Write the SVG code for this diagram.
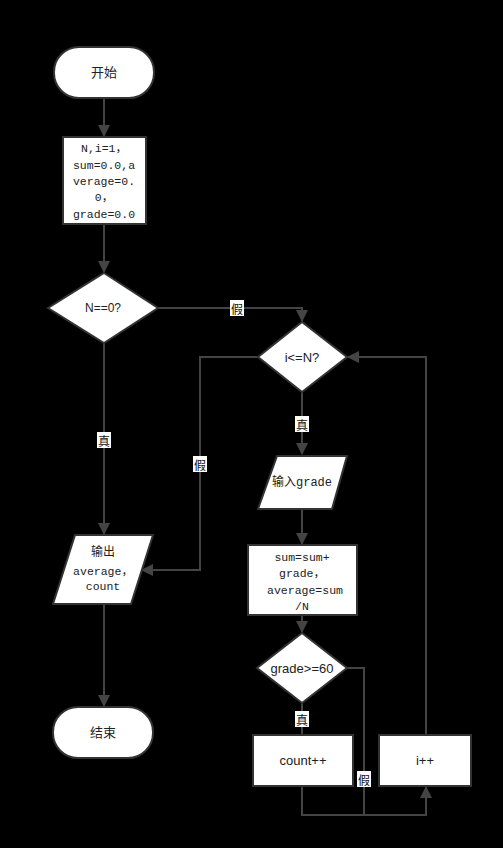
<svg xmlns="http://www.w3.org/2000/svg" width="503" height="848" viewBox="0 0 503 848">
<defs>
<marker id="arr" markerUnits="userSpaceOnUse" markerWidth="12" markerHeight="14" refX="11" refY="6" orient="auto">
<path d="M0,0 L12,6 L0,12 Z" fill="#444"/>
</marker>
<style>
.n{fill:#fff;stroke:#333;stroke-width:2}
.c{fill:none;stroke:#444;stroke-width:2}
.s{font-family:"Liberation Sans","Noto Sans CJK SC",sans-serif;font-size:13px;fill:#222;text-anchor:middle;dominant-baseline:central}
.m{font-family:"Liberation Mono","Noto Sans CJK SC",monospace;font-size:11.5px;fill:#222;text-anchor:middle;dominant-baseline:central}
.lb{fill:#fff}
.lt{font-family:"Noto Sans CJK SC",sans-serif;font-size:12px;fill:#111;text-anchor:middle;dominant-baseline:central}
</style>
</defs>
<rect width="503" height="848" fill="#000"/>
<g id="connectors">
<path class="c" d="M104,98 V136" marker-end="url(#arr)"/>
<path class="c" d="M104,224 V272" marker-end="url(#arr)"/>
<path class="c" d="M158,308 H302 V321" marker-end="url(#arr)"/>
<path class="c" d="M104,343 V534" marker-end="url(#arr)"/>
<path class="c" d="M104,604 V706" marker-end="url(#arr)"/>
<path class="c" d="M258,357 H200 V570 H142" marker-end="url(#arr)"/>
<path class="c" d="M302,392 V454" marker-end="url(#arr)"/>
<path class="c" d="M302,510 V544" marker-end="url(#arr)"/>
<path class="c" d="M302,615 V632" marker-end="url(#arr)"/>
<path class="c" d="M302,703 V735"/>
<path class="c" d="M347,668 H364 V815"/>
<path class="c" d="M302,786 V815 H426 V787" marker-end="url(#arr)"/>
<path class="c" d="M426,735 V357 H348" marker-end="url(#arr)"/>
<g id="labels">
<rect class="lb" x="230" y="300" width="14" height="16"/><text class="lt" x="237" y="308">假</text>
<rect class="lb" x="193" y="456" width="14" height="16"/><text class="lt" x="200" y="464">假</text>
<rect class="lb" x="97" y="432" width="14" height="16"/><text class="lt" x="104" y="440">真</text>
<rect class="lb" x="295" y="416" width="14" height="16"/><text class="lt" x="302" y="424">真</text>
<rect class="lb" x="295" y="711" width="14" height="16"/><text class="lt" x="302" y="719">真</text>
<rect class="lb" x="357" y="771" width="14" height="16"/><text class="lt" x="364" y="779">假</text>
</g>
</g>
<g id="start">
<rect class="n" x="54" y="47" width="100" height="51" rx="25" ry="25"/>
<text class="s" x="104" y="72.5">开始</text>
</g>
<g id="init">
<rect class="n" x="63" y="137" width="83" height="87"/>
<text class="m" x="104" y="148">N,i=1，</text>
<text class="m" x="104" y="165">sum=0.0,a</text>
<text class="m" x="104" y="181">verage=0.</text>
<text class="m" x="104" y="197">0，</text>
<text class="m" x="104" y="214">grade=0.0</text>
</g>
<g id="check-n">
<polygon class="n" points="104,273 158,308 104,343 48,308"/>
<text class="s" x="103" y="308" style="font-size:12px">N==0?</text>
</g>
<g id="check-i">
<polygon class="n" points="302,322 347,357 302,392 258,357"/>
<text class="s" x="302" y="357">i&lt;=N?</text>
</g>
<g id="input-grade">
<polygon class="n" points="277,456 347,456 332,509 258,509"/>
<text class="m" x="302" y="483" style="font-size:12px">输入grade</text>
</g>
<g id="update">
<rect class="n" x="248" y="545" width="109" height="70"/>
<text class="m" x="302" y="557">sum=sum+</text>
<text class="m" x="302" y="573">grade，</text>
<text class="m" x="305" y="590">average=sum</text>
<text class="m" x="302" y="606">/N</text>
</g>
<g id="check-grade">
<polygon class="n" points="302,633 347,668 302,703 257,668"/>
<text class="s" x="302" y="668">grade&gt;=60</text>
</g>
<g id="count">
<rect class="n" x="253" y="735" width="100" height="51"/>
<text class="s" x="303" y="760">count++</text>
</g>
<g id="inc-i">
<rect class="n" x="379" y="735" width="92" height="51"/>
<text class="s" x="425" y="760">i++</text>
</g>
<g id="output">
<polygon class="n" points="75,535 153,535 131,604 53,604"/>
<text class="m" x="103" y="553" style="font-size:12px">输出</text>
<text class="m" x="103" y="571">average，</text>
<text class="m" x="103" y="586">count</text>
</g>
<g id="end">
<rect class="n" x="53" y="707" width="100" height="51" rx="25" ry="25"/>
<text class="s" x="103" y="732.5">结束</text>
</g>
</svg>
